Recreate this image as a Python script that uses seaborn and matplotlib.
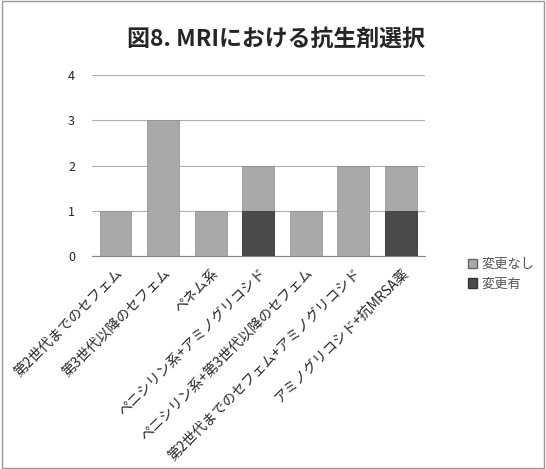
import numpy as np
import pandas as pd
import matplotlib
matplotlib.use('Agg')
import matplotlib.pyplot as plt
import seaborn as sns
from matplotlib.patches import Patch

# データ
categories = ['第2世代までのセフェム', '第3世代以降のセフェム', 'ペネム系',
              'ペニシリン系+アミノグリコシド', 'ペニシリン系+第3世代以降のセフェム',
              '第2世代までのセフェム+アミノグリコシド', 'アミノグリコシド+抗MRSA薬']
no_change = [1, 3, 1, 1, 1, 2, 1]   # 変更なし
changed = [0, 0, 0, 1, 0, 0, 1]     # 変更有
series_names = ['変更なし', '変更有']

df = pd.DataFrame({'cat': categories, 'none': no_change, 'chg': changed})
df['total'] = df['none'] + df['chg']

sns.set_style('white')
plt.rcParams['font.family'] = ['Noto Sans CJK JP', 'DejaVu Sans']

fig = plt.figure(figsize=(5.46, 4.69), dpi=100)
ax = fig.add_axes([0.168, 0.454, 0.61, 0.386])

light = '#a9a9a9'
dark = '#4a4a4a'
# 積み上げ棒: 合計を薄い色で描き、その上に変更有を濃い色で重ねる
sns.barplot(data=df, x='cat', y='total', color=light, width=0.67,
            saturation=1, ax=ax, edgecolor='#8a8a8a', linewidth=0.5, zorder=3)
sns.barplot(data=df, x='cat', y='chg', color=dark, width=0.67,
            saturation=1, ax=ax, edgecolor='#333333', linewidth=0.5, zorder=4)

ax.set_ylim(0, 4)
ax.set_yticks([0, 1, 2, 3, 4])
ax.set_xlim(-0.5, len(categories) - 0.5)
ax.grid(axis='y', color='#b0b0b0', linewidth=0.8, zorder=0)
ax.set_axisbelow(True)
for s in ['top', 'right', 'left']:
    ax.spines[s].set_visible(False)
ax.spines['bottom'].set_color('#888888')
ax.set_xlabel('')
ax.set_ylabel('')
ax.tick_params(axis='y', length=0, labelsize=9, pad=12)
ax.tick_params(axis='x', length=0, labelsize=10, pad=7)
plt.setp(ax.get_xticklabels(), rotation=45, ha='right', rotation_mode='anchor')

handles = [Patch(facecolor=light, edgecolor='#666666', label=series_names[0]),
           Patch(facecolor=dark, edgecolor='#333333', label=series_names[1])]
fig.legend(handles=handles, loc='center left', bbox_to_anchor=(0.835, 0.415),
           frameon=False, fontsize=9.5, handlelength=0.7, handleheight=0.7,
           handletextpad=0.3, labelspacing=0.5, labelcolor='#555555')

fig.suptitle('図8. MRIにおける抗生剤選択', fontsize=16.5, fontweight='bold',
             y=0.94, x=0.505)

fig.patches.append(plt.Rectangle((0.003, 0.003), 0.994, 0.994,
                                 transform=fig.transFigure, fill=False,
                                 edgecolor='#999999', linewidth=1))

fig.savefig('out.png', dpi=100)
